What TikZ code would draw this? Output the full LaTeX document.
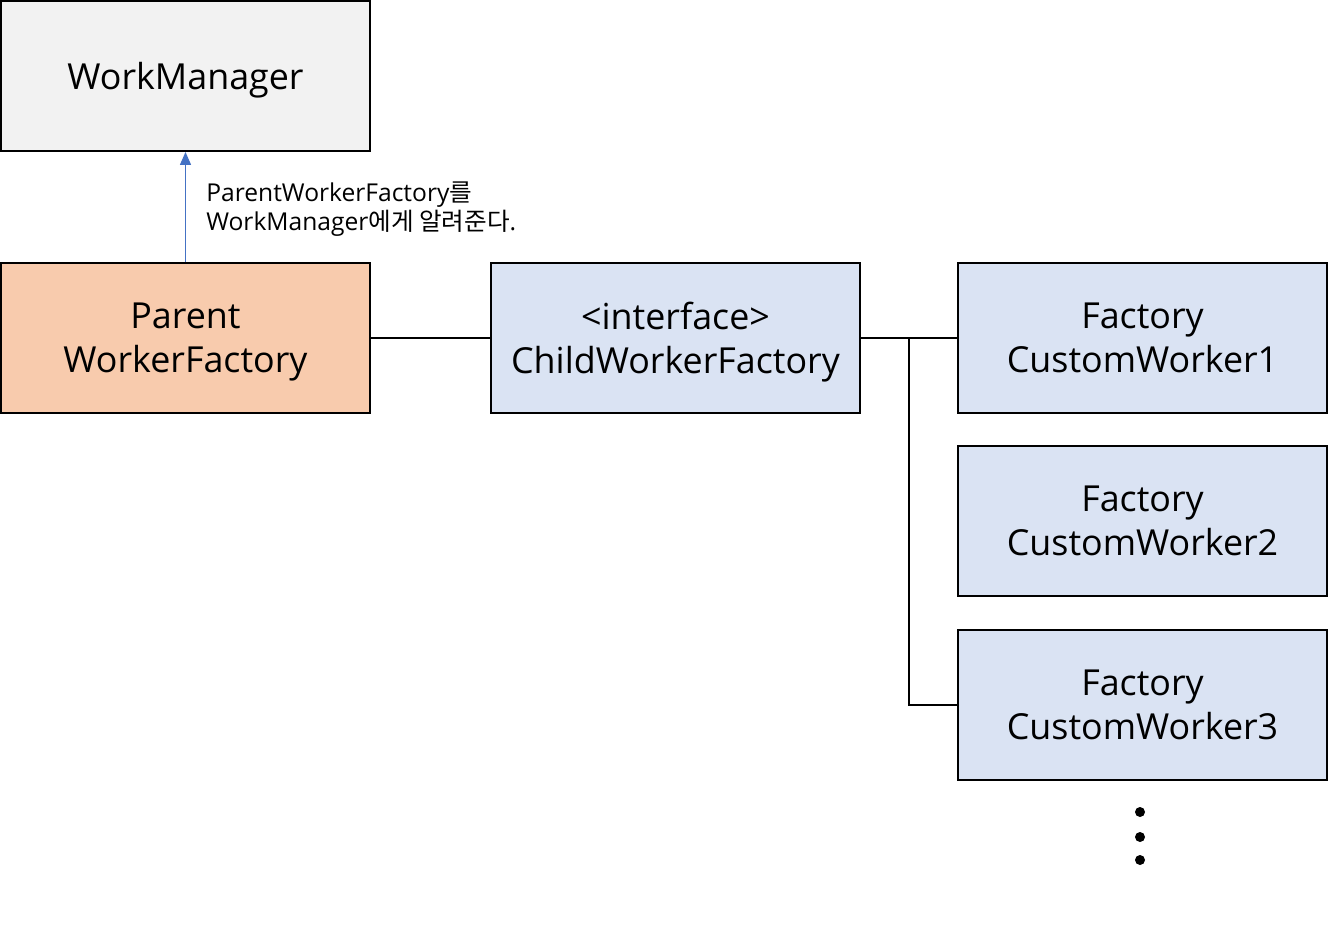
\documentclass[tikz,border=0pt]{standalone}
\usepackage{fontspec}
\setmainfont{Open Sans}
\newfontfamily\krfont{Noto Sans CJK KR}
\usetikzlibrary{arrows.meta}

\begin{document}
\begin{tikzpicture}[
		x=0.02cm, y=-0.02cm,
		thin,
		>={Triangle[length=2.6mm,width=2.2mm]},
		every box/.style={draw=black,line width=1.1pt,minimum width=7.38cm,minimum height=3cm,
			align=center,font=\fontsize{20.4}{25}\selectfont,inner sep=0pt,text depth=0pt},
		managerbox/.style={every box,fill=managergray},
		parentbox/.style={every box,fill=parentorange},
		childbox/.style={every box,fill=childblue},
		link/.style={draw=black,line width=0.8pt}
	]
	\definecolor{managergray}{HTML}{F2F2F2}
	\definecolor{parentorange}{HTML}{F8CBAD}
	\definecolor{childblue}{HTML}{DAE3F3}
	\definecolor{arrowblue}{HTML}{4472C4}

	\useasboundingbox (0,0) rectangle (1328,927);

		% Boxes
		\node[managerbox] (manager) at (185.5, 76) {WorkManager};
		\node[parentbox] (parent) at (185.5, 338) {Parent\\WorkerFactory};
		\node[childbox] (child) at (675.5, 338) {<interface>\\ChildWorkerFactory};
		\node[childbox] (cw1) at (1142.5, 338) {Factory\\CustomWorker1};
		\node[childbox] (cw2) at (1142.5, 521) {Factory\\CustomWorker2};
		\node[childbox] (cw3) at (1142.5, 705) {Factory\\CustomWorker3};

		% Dots
		\foreach \y/\n in {812/a, 837/b, 860/c}
			\fill (1140, \y) circle (5) node (dot\n) {};

		% Label
		\node[anchor=north west, align=left, inner sep=0pt,
			font=\fontsize{14}{17}\selectfont] (note) at (206, 181)
			{ParentWorkerFactory{\krfont 를}\\WorkManager{\krfont 에게 알려준다}.};

		% Connectors
		\draw[->, arrowblue, line width=0.8pt] (parent.north) -- (manager.south);
		\draw[link] (parent.east) -- (child.east -| child.west);
		\draw[link] (child.east) -- (cw1.west);
		\coordinate (branch) at (909, 338);
		\draw[link] (branch) |- (cw3.west);
\end{tikzpicture}
\end{document}
